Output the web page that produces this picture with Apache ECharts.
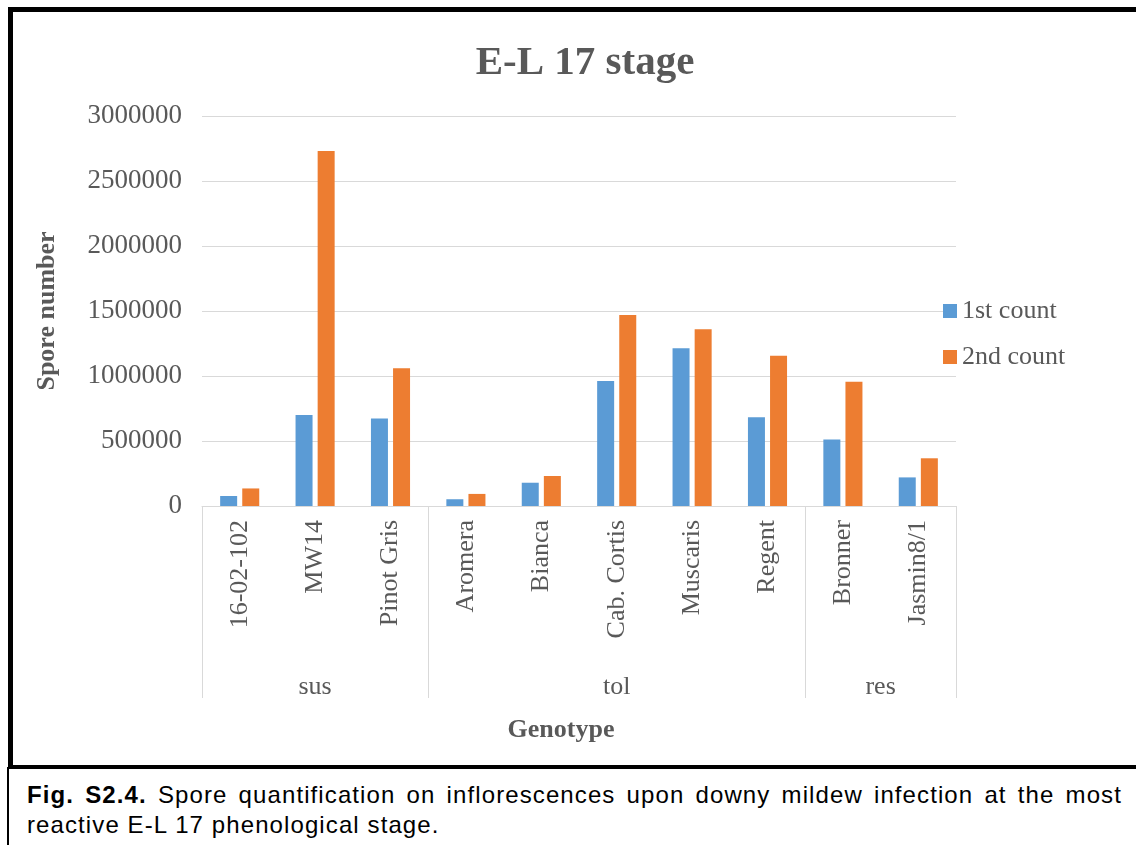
<!DOCTYPE html>
<html>
<head>
<meta charset="utf-8">
<script src="https://cdn.jsdelivr.net/npm/echarts@6/dist/echarts.min.js"></script>
<style>
  html, body { margin: 0; padding: 0; width: 1136px; height: 845px; overflow: hidden; background: #fff; }
  #chart { position: absolute; left: 0; top: 0; width: 1136px; height: 845px; }
  #frame { position: absolute; left: 8px; top: 7px; width: 1140px; height: 753px; border: 5px solid #000; pointer-events: none; box-sizing: content-box; }
  #caption { position: absolute; left: 7px; top: 767px; width: 1140px; height: 100px; border: 2px solid #000; background: #fff;
             font-family: "Liberation Sans", Arial, sans-serif; font-size: 24px; line-height: 30px; letter-spacing: 1.1px; color: #000;
             padding: 11px 0 0 18px; box-sizing: border-box; }
  #caption .l1 { width: 1095px; white-space: nowrap; text-align: justify; text-align-last: justify; }
  #caption .l2 { white-space: nowrap; }
</style>
</head>
<body>
<div id="chart"></div>
<div id="frame"></div>
<div id="caption">
  <div class="l1"><b>Fig. S2.4.</b> Spore quantification on inflorescences upon downy mildew infection at the most</div>
  <div class="l2">reactive E-L 17 phenological stage.</div>
</div>
<script>
// ---- data ----
const categories = ['16-02-102', 'MW14', 'Pinot Gris', 'Aromera', 'Bianca', 'Cab. Cortis', 'Muscaris', 'Regent', 'Bronner', 'Jasmin8/1'];
const firstCount  = [77000, 700000, 673000, 52000, 179000, 962000, 1213000, 682000, 512000, 220000];
const secondCount = [135000, 2730000, 1059000, 93000, 231000, 1469000, 1360000, 1155000, 955000, 367000];
const groupNames = ['sus', 'tol', 'res'];
const groupSizes = [3, 5, 2];
const yTicks = [0, 500000, 1000000, 1500000, 2000000, 2500000, 3000000];
const seriesNames = ['1st count', '2nd count'];

// group boundaries and centres (in category units)
const groupBounds = [0];
groupSizes.forEach(s => groupBounds.push(groupBounds[groupBounds.length - 1] + s));
const groupCenters = groupSizes.map((s, i) => groupBounds[i] + s / 2);

const serif = '"Liberation Serif", "Times New Roman", serif';
const gray = '#595959';
const lineGray = '#d9d9d9';

const chart = echarts.init(document.getElementById('chart'), null, { renderer: 'canvas' });
chart.setOption({
  animation: false,
  backgroundColor: '#fff',
  title: {
    text: 'E-L 17 stage',
    left: 580, top: 38, textAlign: 'center',
    textStyle: { fontFamily: serif, fontSize: 41, fontWeight: 'bold', color: gray }
  },
  legend: {
    orient: 'vertical', left: 943, top: 298, itemGap: 20, padding: 0,
    itemWidth: 14, itemHeight: 14, icon: 'rect',
    data: seriesNames,
    textStyle: { fontFamily: serif, fontSize: 26, color: gray }
  },
  grid: { left: 202, right: 180, top: 116, bottom: 339, containLabel: false },
  xAxis: [
    {
      type: 'category', data: categories, position: 'bottom',
      axisLine: { show: true, lineStyle: { color: lineGray, width: 1 } },
      axisTick: { show: false },
      axisLabel: { rotate: 90, margin: 14, interval: 0, fontFamily: serif, fontSize: 26, color: gray },
      name: 'Genotype', nameLocation: 'middle', nameGap: 211,
      nameTextStyle: { fontFamily: serif, fontSize: 26, fontWeight: 'bold', color: gray, padding: [0, 36, 0, 0] }
    },
    {
      type: 'value', min: 0, max: categories.length, position: 'bottom',
      axisLine: { show: false },
      splitLine: { show: false },
      axisTick: { show: true, inside: false, length: 192, customValues: groupBounds, lineStyle: { color: lineGray, width: 1 } },
      axisLabel: {
        show: true, margin: 168, customValues: groupCenters,
        formatter: v => { const i = groupCenters.indexOf(v); return i >= 0 ? groupNames[i] : ''; },
        fontFamily: serif, fontSize: 26, color: gray
      }
    }
  ],
  yAxis: {
    type: 'value', min: yTicks[0], max: yTicks[yTicks.length - 1], interval: yTicks[1] - yTicks[0],
    axisLine: { show: false }, axisTick: { show: false },
    splitLine: { show: true, lineStyle: { color: lineGray, width: 1 } },
    axisLabel: { margin: 20, formatter: v => String(v), fontFamily: serif, fontSize: 27, color: gray },
    name: 'Spore number', nameLocation: 'middle', nameGap: 142,
    nameTextStyle: { fontFamily: serif, fontSize: 26, fontWeight: 'bold', color: gray }
  },
  series: [
    { name: seriesNames[0], type: 'bar', xAxisIndex: 0, data: firstCount, barWidth: 17, barGap: '30%', itemStyle: { color: '#5B9BD5' } },
    { name: seriesNames[1], type: 'bar', xAxisIndex: 0, data: secondCount, barWidth: 17, barGap: '30%', itemStyle: { color: '#ED7D31' } }
  ]
});
</script>
</body>
</html>
